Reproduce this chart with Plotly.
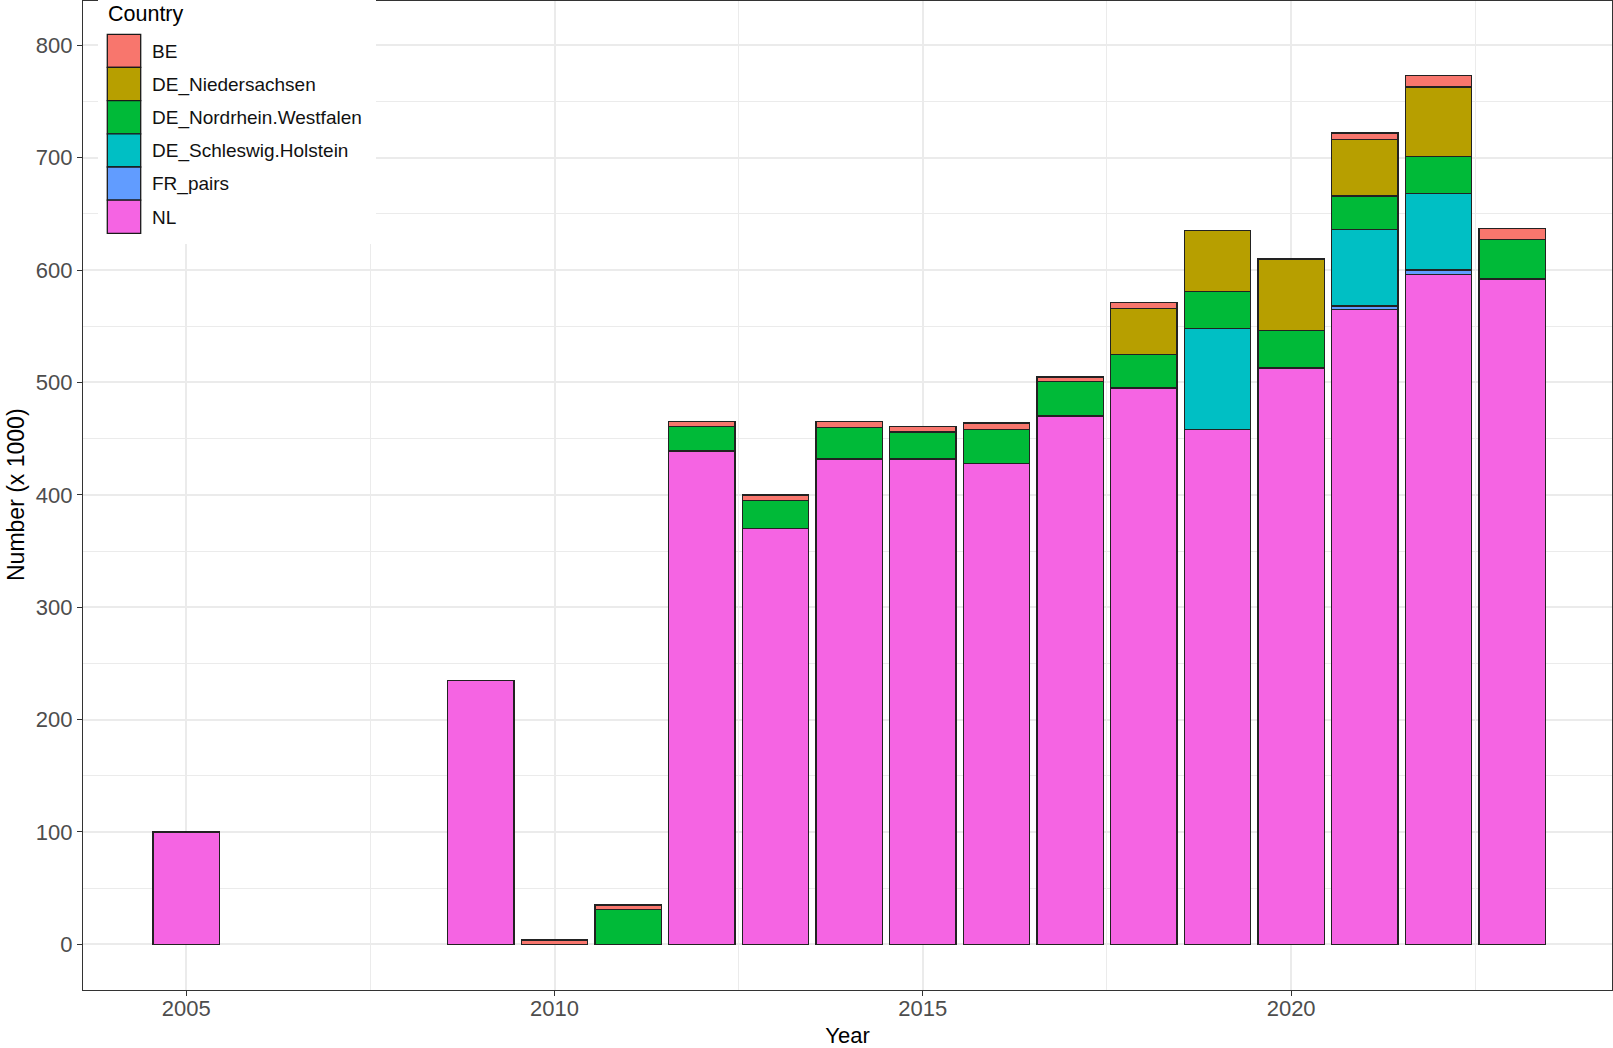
import plotly.graph_objects as go

# ---------------- data ----------------
years = [2005, 2009, 2010, 2011, 2012, 2013, 2014, 2015, 2016, 2017,
         2018, 2019, 2020, 2021, 2022, 2023]
NL = [100, 235, None, None, 439, 370, 432, 432, 428, 470, 495, 458, 513, 565, 596, 592]
FR_pairs = [None, None, None, None, None, None, None, None, None, None, None, None, None, 3, 4, None]
DE_Schleswig_Holstein = [None, None, None, None, None, None, None, None, None, None, None, 90, None, 68, 68, None]
DE_Nordrhein_Westfalen = [None, None, None, 31, 22, 25, 28, 24, 30, 31, 30, 33, 33, 30, 33, 35]
DE_Niedersachsen = [None, None, None, None, None, None, None, None, None, None, 41, 54, 64, 50, 62, None]
BE = [None, None, 4, 4, 4, 5, 5, 5, 6, 4, 5, None, None, 6, 10, 10]

legend_names = ["BE", "DE_Niedersachsen", "DE_Nordrhein.Westfalen",
                "DE_Schleswig.Holstein", "FR_pairs", "NL"]
colors = ["#F8766D", "#B79F00", "#00BA38", "#00BFC4", "#619CFF", "#F564E3"]
series = [BE, DE_Niedersachsen, DE_Nordrhein_Westfalen, DE_Schleswig_Holstein, FR_pairs, NL]

y_ticks = [0, 100, 200, 300, 400, 500, 600, 700, 800]
x_ticks = [2005, 2010, 2015, 2020]

# ---------------- geometry (pixels) ----------------
W, H = 1613, 1048
L, R, T, B = 83, 1612, 1, 990
pw, ph = R - L, B - T

def px(x):
    return (x - L) / pw

def py(y):
    return (B - y) / ph

fig = go.Figure()
# stack bottom -> top: NL first
for name, col, vals in reversed(list(zip(legend_names, colors, series))):
    fig.add_trace(go.Bar(
        x=years, y=vals, name=name, width=0.9,
        marker=dict(color=col, line=dict(color="#222222", width=1.4)),
        showlegend=False,
    ))

grid = "#EBEBEB"
axis_line = "#333333"
tick_font = dict(family="Liberation Sans, Arial, sans-serif", size=22, color="#4D4D4D")

fig.update_layout(
    width=W, height=H,
    barmode="stack",
    plot_bgcolor="white", paper_bgcolor="white",
    margin=dict(l=L, r=W - R, t=T, b=H - B),
    font=dict(family="Liberation Sans, Arial, sans-serif", color="black"),
    xaxis=dict(
        range=[2003.599, 2024.356],
        tickmode="array", tickvals=x_ticks, ticktext=[str(v) for v in x_ticks],
        showgrid=True, gridcolor=grid, gridwidth=1.6,
        minor=dict(tickmode="array", tickvals=[2002.5, 2007.5, 2012.5, 2017.5, 2022.5],
                   showgrid=True, gridcolor=grid, gridwidth=0.8, ticks=""),
        showline=True, linecolor=axis_line, linewidth=1.3, mirror=True,
        ticks="outside", ticklen=5, tickwidth=1.2, tickcolor=axis_line,
        tickfont=tick_font, zeroline=False, ticklabelstandoff=-7,
        title=dict(text="Year", font=dict(size=22, color="black"), standoff=8),
    ),
    yaxis=dict(
        range=[-40.6, 839.4],
        tickmode="array", tickvals=y_ticks, ticktext=[str(v) for v in y_ticks],
        showgrid=True, gridcolor=grid, gridwidth=1.6,
        minor=dict(tickmode="array", tickvals=[-50, 50, 150, 250, 350, 450, 550, 650, 750],
                   showgrid=True, gridcolor=grid, gridwidth=0.8, ticks=""),
        showline=True, linecolor=axis_line, linewidth=1.3, mirror=True,
        ticks="outside", ticklen=5, tickwidth=1.2, tickcolor=axis_line,
        tickfont=tick_font, zeroline=False,
    ),
)

# y axis title
fig.add_annotation(
    text="Number (x 1000)", xref="paper", yref="paper",
    x=px(16), y=py(495), textangle=-90, showarrow=False,
    font=dict(size=23, color="black"), xanchor="center", yanchor="middle",
)

# ---------------- legend (ggplot-style, drawn manually) ----------------
shapes = []
shapes.append(dict(type="rect", xref="paper", yref="paper",
                   x0=px(98), x1=px(376), y0=py(244), y1=py(-5),
                   fillcolor="white", line=dict(width=0), layer="above"))
key_top, key_h = 34.3, 33.17
for i, (name, col) in enumerate(zip(legend_names, colors)):
    y0 = key_top + i * key_h
    shapes.append(dict(type="rect", xref="paper", yref="paper",
                       x0=px(107.3), x1=px(140.7), y0=py(y0 + key_h), y1=py(y0),
                       fillcolor=col, line=dict(color="#1a1a1a", width=1.3), layer="above"))
    fig.add_annotation(text=name, xref="paper", yref="paper",
                       x=px(150), y=py(y0 + key_h / 2 + 0.5), xanchor="left", yanchor="middle",
                       showarrow=False, font=dict(size=19, color="#111111"))
fig.add_annotation(text="Country", xref="paper", yref="paper",
                   x=px(106), y=py(14), xanchor="left", yanchor="middle",
                   showarrow=False, font=dict(size=21.5, color="black"))
fig.update_layout(shapes=shapes)

fig.write_html("out.html")
